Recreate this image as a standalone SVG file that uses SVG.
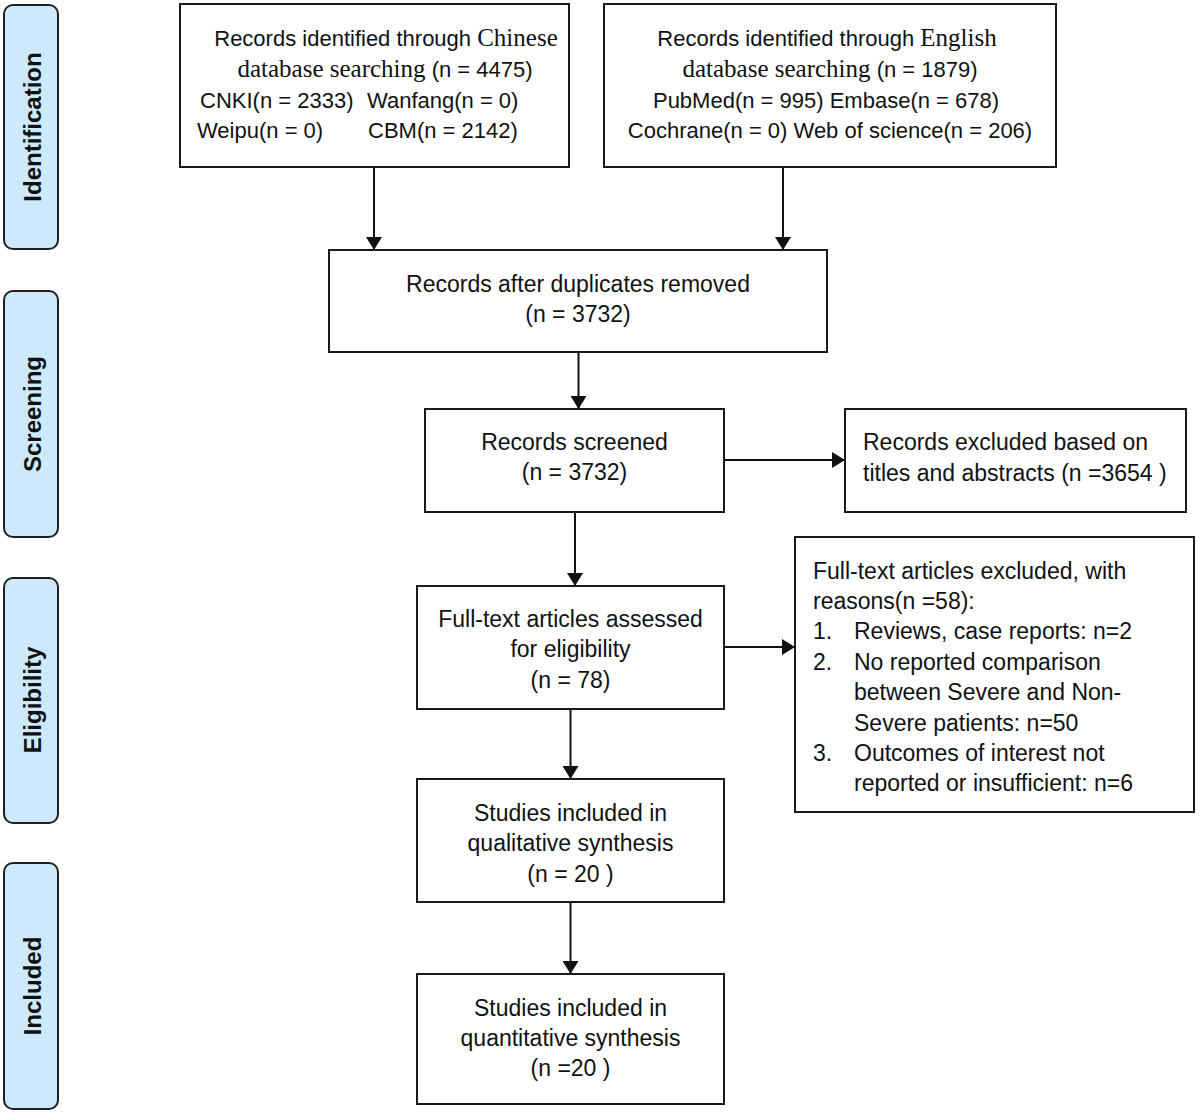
<svg xmlns="http://www.w3.org/2000/svg" width="1200" height="1116" viewBox="0 0 1200 1116">
<style>
.bg{fill:#ffffff}
.box{fill:#ffffff;stroke:#1a1a1a;stroke-width:2}
.side{fill:#cdeafc;stroke:#1f1f1f;stroke-width:2}
.t{font-family:"Liberation Sans",Arial,sans-serif;font-size:23px;fill:#111}
.s{font-size:22px}
.c{text-anchor:middle}
.serif{font-family:"Liberation Serif","Times New Roman",serif;font-size:25px}
.st{font-family:"Liberation Sans",Arial,sans-serif;font-size:24px;font-weight:bold;fill:#111;text-anchor:middle}
.conn{stroke:#111;stroke-width:2;fill:none;marker-end:url(#ah)}
</style>
<defs>
<marker id="ah" markerUnits="userSpaceOnUse" markerWidth="14" markerHeight="16" refX="13" refY="8" orient="auto">
<path d="M0,0 L13,8 L0,16 z" fill="#111"/>
</marker>
</defs>
<rect class="bg" x="0" y="0" width="1200" height="1116"/>

<g id="phase-identification">
<rect class="side" x="4" y="5" width="54" height="244" rx="9" ry="9"/>
<text class="st" transform="translate(41,127) rotate(-90)">Identification</text>
</g>
<g id="phase-screening">
<rect class="side" x="4" y="291" width="54" height="246" rx="9" ry="9"/>
<text class="st" transform="translate(41,414) rotate(-90)">Screening</text>
</g>
<g id="phase-eligibility">
<rect class="side" x="4" y="578" width="54" height="245" rx="9" ry="9"/>
<text class="st" transform="translate(41,700) rotate(-90)">Eligibility</text>
</g>
<g id="phase-included">
<rect class="side" x="4" y="863" width="54" height="246" rx="9" ry="9"/>
<text class="st" transform="translate(41,986) rotate(-90)">Included</text>
</g>

<g id="connectors">
<line class="conn" x1="374" y1="168" x2="374" y2="250"/>
<line class="conn" x1="783" y1="168" x2="783" y2="250"/>
<line class="conn" x1="578.5" y1="353" x2="578.5" y2="409"/>
<line class="conn" x1="725" y1="460" x2="845" y2="460"/>
<line class="conn" x1="575" y1="513" x2="575" y2="586"/>
<line class="conn" x1="725" y1="647" x2="795" y2="647"/>
<line class="conn" x1="570.5" y1="709" x2="570.5" y2="779"/>
<line class="conn" x1="570.5" y1="903" x2="570.5" y2="974"/>
</g>

<g id="node-chinese">
<rect class="box" x="180" y="4" width="389" height="163"/>
<text class="t s c" x="386" y="46">Records identified through <tspan class="serif">Chinese</tspan></text>
<text class="t s c" x="385" y="77"><tspan class="serif">database searching</tspan> (n = 4475)</text>
<text class="t s" x="200" y="108">CNKI(n = 2333)</text>
<text class="t s" x="367" y="108">Wanfang(n = 0)</text>
<text class="t s" x="197" y="138">Weipu(n = 0)</text>
<text class="t s" x="368" y="138">CBM(n = 2142)</text>
</g>

<g id="node-english">
<rect class="box" x="604" y="4" width="452" height="163"/>
<text class="t s c" x="827" y="46">Records identified through <tspan class="serif">English</tspan></text>
<text class="t s c" x="830" y="77"><tspan class="serif">database searching</tspan> (n = 1879)</text>
<text class="t s c" x="826" y="108">PubMed(n = 995) Embase(n = 678)</text>
<text class="t s c" x="830" y="138">Cochrane(n = 0) Web of science(n = 206)</text>
</g>

<g id="node-duplicates">
<rect class="box" x="329" y="250" width="498" height="102"/>
<text class="t c" x="578" y="292">Records after duplicates removed</text>
<text class="t c" x="578" y="322">(n = 3732)</text>
</g>

<g id="node-screened">
<rect class="box" x="425" y="409" width="299" height="103"/>
<text class="t c" x="574.5" y="450">Records screened</text>
<text class="t c" x="574.5" y="480">(n = 3732)</text>
</g>

<g id="node-excluded">
<rect class="box" x="845" y="409" width="341" height="103"/>
<text class="t" x="863" y="450">Records excluded based on</text>
<text class="t" x="863" y="481">titles and abstracts (n =3654 )</text>
</g>

<g id="node-fulltext">
<rect class="box" x="417" y="586" width="307" height="123"/>
<text class="t c" x="570.5" y="627">Full-text articles assessed</text>
<text class="t c" x="570.5" y="657">for eligibility</text>
<text class="t c" x="570.5" y="688">(n = 78)</text>
</g>

<g id="node-reasons">
<rect class="box" x="795" y="537" width="399" height="275"/>
<text class="t" x="813" y="579">Full-text articles excluded, with</text>
<text class="t" x="813" y="609">reasons(n =58):</text>
<text class="t" x="813" y="639">1.</text>
<text class="t" x="854" y="639">Reviews, case reports: n=2</text>
<text class="t" x="813" y="670">2.</text>
<text class="t" x="854" y="670">No reported comparison</text>
<text class="t" x="854" y="700">between Severe and Non-</text>
<text class="t" x="854" y="731">Severe patients: n=50</text>
<text class="t" x="813" y="761">3.</text>
<text class="t" x="854" y="761">Outcomes of interest not</text>
<text class="t" x="854" y="791">reported or insufficient: n=6</text>
</g>

<g id="node-qualitative">
<rect class="box" x="417" y="779" width="307" height="123"/>
<text class="t c" x="570.5" y="821">Studies included in</text>
<text class="t c" x="570.5" y="851">qualitative synthesis</text>
<text class="t c" x="570.5" y="882">(n = 20 )</text>
</g>

<g id="node-quantitative">
<rect class="box" x="417" y="974" width="307" height="130"/>
<text class="t c" x="570.5" y="1016">Studies included in</text>
<text class="t c" x="570.5" y="1046">quantitative synthesis</text>
<text class="t c" x="570.5" y="1076">(n =20 )</text>
</g>
</svg>
